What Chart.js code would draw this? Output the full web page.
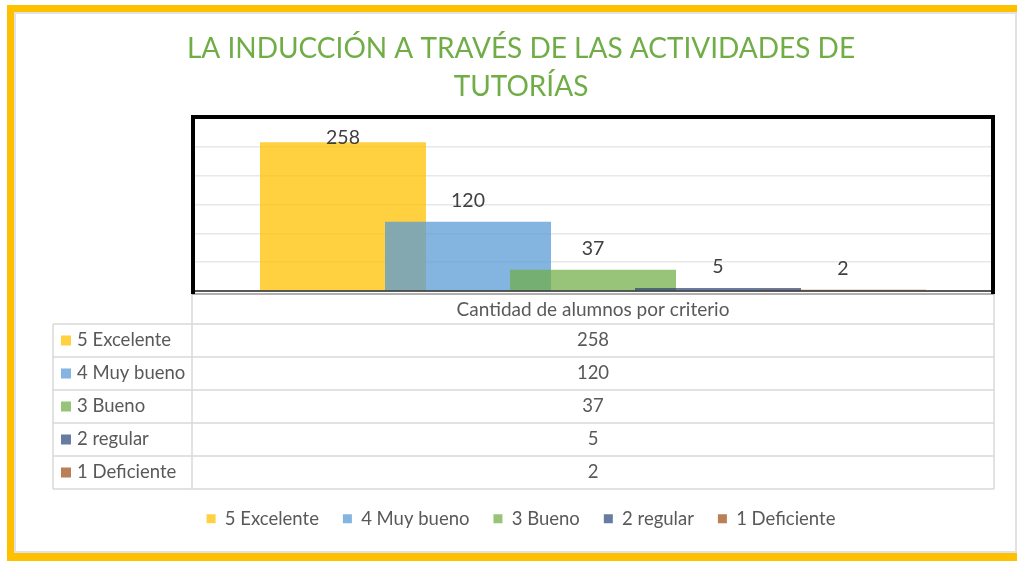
<!DOCTYPE html>
<html>
<head>
<meta charset="utf-8">
<script src="https://cdn.jsdelivr.net/npm/chart.js@4/dist/chart.umd.min.js"></script>
<style>
  html, body { margin: 0; padding: 0; background: #ffffff; }
  #wrap { width: 1017px; height: 561px; }
</style>
</head>
<body>
<div id="wrap"><canvas id="c" width="1017" height="561"></canvas></div>
<script>
// Chart data
const categories = ['Cantidad de alumnos por criterio'];
const seriesNames = ['5 Excelente', '4 Muy bueno', '3 Bueno', '2 regular', '1 Deficiente'];
const seriesValues = [258, 120, 37, 5, 2];
const seriesColors = [
  'rgba(255,192,0,0.75)',
  'rgba(91,155,213,0.75)',
  'rgba(112,173,71,0.72)',
  'rgba(38,68,120,0.70)',
  'rgba(158,72,14,0.70)'
];
const titleLines = ['LA INDUCCIÓN A TRAVÉS DE LAS ACTIVIDADES DE', 'TUTORÍAS'];
const yMin = 0, yMax = 300, yStep = 50;

const FONT = 'Lato, "Open Sans", sans-serif';
Chart.defaults.font.family = FONT;

// Yellow frame around the whole figure
const framePlugin = {
  id: 'frame',
  beforeDraw(chart) {
    const { ctx, width: W, height: H } = chart;
    ctx.save();
    ctx.fillStyle = '#ffffff';
    ctx.fillRect(0, 0, W, H);
    ctx.strokeStyle = '#e2e2e2';
    ctx.lineWidth = 2;
    ctx.strokeRect(15, 13, W - 16, 539);
    ctx.fillStyle = '#FFC000';
    ctx.fillRect(7, 5, W - 7, 7);
    ctx.fillRect(7, 5, 7, H - 5);
    ctx.fillRect(7, 553, W - 7, 8);
    ctx.restore();
  }
};

// Draw the bars first-to-last so each later series sits over the previous one
const barsInOrder = {
  id: 'barsInOrder',
  beforeDatasetsDraw() { return false; },
  afterDraw(chart) {
    const { ctx, chartArea: a } = chart;
    ctx.save();
    ctx.beginPath();
    ctx.rect(a.left, a.top, a.right - a.left, a.bottom - a.top);
    ctx.clip();
    for (let i = 0; i < chart.data.datasets.length; i++) {
      chart.getDatasetMeta(i).controller.draw();
    }
    ctx.restore();
  }
};

// Value labels above each bar
const valueLabels = {
  id: 'valueLabels',
  afterDraw(chart) {
    const { ctx, chartArea: a } = chart;
    ctx.save();
    ctx.font = '19.5px ' + FONT;
    ctx.fillStyle = '#404040';
    ctx.textAlign = 'center';
    ctx.textBaseline = 'middle';
    chart.data.datasets.forEach((ds, i) => {
      const bar = chart.getDatasetMeta(i).data[0];
      const y = Math.max(bar.y - 21, a.top + 20);
      ctx.fillText(String(ds.data[0]), bar.x, y);
    });
    ctx.restore();
  }
};

// Plot-area border and data table under the axis
const tableAndBorder = {
  id: 'tableAndBorder',
  afterDraw(chart) {
    const { ctx, chartArea: a } = chart;
    ctx.save();

    // data table
    const top = a.bottom + 2;
    const headerH = 31, rowH = 33;
    const x0 = 53, x1 = a.left - 1, x2 = a.right + 1;
    const n = chart.data.datasets.length;
    const bottom = top + headerH + rowH * n;
    ctx.strokeStyle = '#d9d9d9';
    ctx.lineWidth = 1.5;
    ctx.beginPath();
    for (let r = 1; r <= n; r++) {
      const y = top + headerH + rowH * r;
      ctx.moveTo(x0, y); ctx.lineTo(x2, y);
    }
    ctx.moveTo(x0, top + headerH); ctx.lineTo(x2, top + headerH);
    ctx.moveTo(x0, top + headerH); ctx.lineTo(x0, bottom);
    ctx.moveTo(x1, top); ctx.lineTo(x1, bottom);
    ctx.moveTo(x2, top); ctx.lineTo(x2, bottom);
    ctx.stroke();
    ctx.strokeStyle = '#b0b0b0';
    ctx.lineWidth = 2;
    ctx.beginPath();
    ctx.moveTo(x1, top + 1); ctx.lineTo(x2, top + 1);
    ctx.stroke();

    const cx = (a.left + a.right) / 2;
    ctx.fillStyle = '#595959';
    ctx.textBaseline = 'middle';
    ctx.textAlign = 'center';
    ctx.font = '19px ' + FONT;
    ctx.fillText(chart.data.labels[0], cx, top + headerH / 2 + 1);
    ctx.font = '18.5px ' + FONT;
    chart.data.datasets.forEach((ds, i) => {
      const yc = top + headerH + rowH * i + rowH / 2;
      ctx.fillStyle = ds.backgroundColor;
      ctx.fillRect(61, yc - 5, 10, 10);
      ctx.fillStyle = '#595959';
      ctx.textAlign = 'left';
      ctx.fillText(ds.label, 77, yc);
      ctx.textAlign = 'center';
      ctx.fillText(String(ds.data[0]), cx, yc);
    });

    // axis line and thick plot-area frame
    ctx.strokeStyle = '#262626';
    ctx.lineWidth = 1.5;
    ctx.beginPath();
    ctx.moveTo(a.left, a.bottom); ctx.lineTo(a.right, a.bottom);
    ctx.stroke();
    ctx.strokeStyle = '#000000';
    ctx.lineWidth = 4;
    ctx.beginPath();
    ctx.moveTo(a.left, top + 1);
    ctx.lineTo(a.left, a.top - 1);
    ctx.lineTo(a.right, a.top - 1);
    ctx.lineTo(a.right, top + 1);
    ctx.stroke();
    ctx.restore();
  }
};

const datasets = seriesNames.map((name, i) => ({
  label: name,
  data: [seriesValues[i]],
  backgroundColor: seriesColors[i],
  borderWidth: 0
}));

new Chart(document.getElementById('c'), {
  type: 'bar',
  data: { labels: categories, datasets },
  options: {
    responsive: false,
    animation: false,
    events: [],
    layout: { padding: { left: 49, right: 24, top: 0, bottom: 23 } },
    datasets: {
      bar: { categoryPercentage: 0.78125, barPercentage: 1.328, grouped: true }
    },
    plugins: {
      title: {
        display: true,
        text: titleLines,
        color: '#70AD47',
        font: { size: 28, weight: 'normal', lineHeight: 38 / 28 },
        padding: { top: 30, bottom: 12 }
      },
      legend: {
        display: true,
        position: 'bottom',
        labels: {
          boxWidth: 9,
          boxHeight: 9,
          padding: 24,
          color: '#595959',
          font: { size: 18.5 }
        }
      },
      tooltip: { enabled: false }
    },
    scales: {
      x: {
        display: true,
        offset: true,
        grid: { display: false },
        border: { display: false },
        ticks: { display: false },
        afterFit(s) { s.height = 194.5; }
      },
      y: {
        min: yMin,
        max: yMax,
        ticks: { display: false, stepSize: yStep },
        grid: { color: '#e8e8e8', lineWidth: 1.5, drawTicks: false },
        border: { display: false },
        afterFit(s) { s.width = 144; }
      }
    }
  },
  plugins: [framePlugin, barsInOrder, valueLabels, tableAndBorder]
});
</script>
</body>
</html>
